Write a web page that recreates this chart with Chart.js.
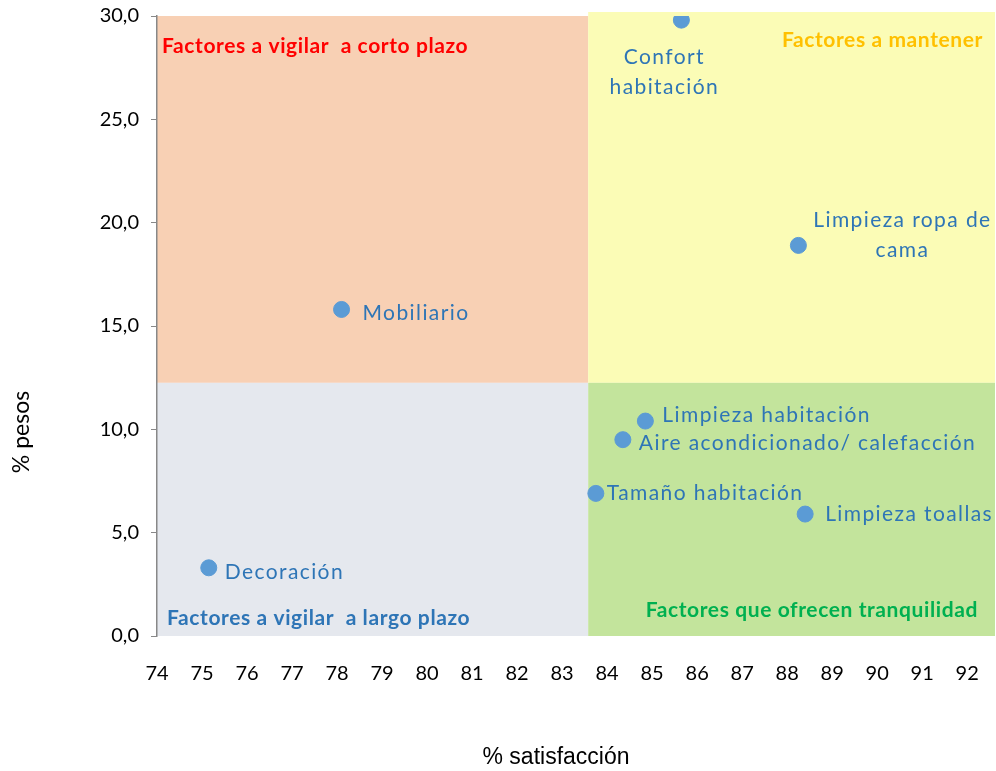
<!DOCTYPE html>
<html>
<head>
<meta charset="utf-8">
<script src="https://cdn.jsdelivr.net/npm/chart.js@4.4.0/dist/chart.umd.min.js"></script>
<style>
    html, body { margin: 0; padding: 0; background: #fff; }
    #wrap { width: 996px; height: 771px; }
</style>
</head>
<body>
<div id="wrap"><canvas id="myChart" width="996" height="771"></canvas></div>
<script>
// datos
var factores = ['Confort\nhabitación', 'Limpieza ropa de\ncama', 'Mobiliario', 'Limpieza habitación',
    'Aire acondicionado/ calefacción', 'Tamaño habitación', 'Limpieza toallas', 'Decoración'];
var satisfaccion = [85.65, 88.25, 78.1, 84.85, 84.35, 83.75, 88.4, 75.15];
var pesos = [29.8, 18.9, 15.8, 10.4, 9.5, 6.9, 5.9, 3.3];
var xTicks = [74, 75, 76, 77, 78, 79, 80, 81, 82, 83, 84, 85, 86, 87, 88, 89, 90, 91, 92];
var yTicks = [0, 5, 10, 15, 20, 25, 30];
var corteX = 83.58;
var corteY = 12.25;
var cuadrantes = ['Factores a vigilar  a corto plazo', 'Factores a mantener',
    'Factores a vigilar  a largo plazo', 'Factores que ofrecen tranquilidad'];
var tituloX = '% satisfacción';
var tituloY = '% pesos';

// posicion de etiquetas respecto al punto
var labelPos = [
    { dx: -17, dy: 37, align: 'center' },
    { dx: 104, dy: -25, align: 'center' },
    { dx: 21, dy: 4, align: 'left' },
    { dx: 17, dy: -6, align: 'left' },
    { dx: 16, dy: 4, align: 'left' },
    { dx: 11, dy: 0, align: 'left' },
    { dx: 20, dy: 0, align: 'left' },
    { dx: 16, dy: 4, align: 'left' }
];

var FONT = 'Lato, "Open Sans", sans-serif';

var quadPlugin = {
    id: 'quad',
    beforeDraw: function (chart) {
        var ctx = chart.ctx;
        var xs = chart.scales.x, ys = chart.scales.y;
        var a = chart.chartArea;
        var right = chart.width - 1;
        var cx = xs.getPixelForValue(corteX);
        var cy = ys.getPixelForValue(corteY);
        ctx.save();
        ctx.fillStyle = '#F8D0B4';
        ctx.fillRect(a.left, a.top, cx - a.left, cy - a.top);
        ctx.fillStyle = '#FBFCB6';
        ctx.fillRect(cx, a.top - 4, right - cx, cy - a.top + 4);
        ctx.fillStyle = '#E5E8EE';
        ctx.fillRect(a.left, cy, cx - a.left, a.bottom - cy);
        ctx.fillStyle = '#C3E49C';
        ctx.fillRect(cx, cy, right - cx, a.bottom - cy);

        ctx.font = 'bold 21px ' + FONT;
        ctx.letterSpacing = '0.6px';
        ctx.textBaseline = 'middle';
        ctx.textAlign = 'left';
        ctx.fillStyle = '#FF0000';
        ctx.fillText(cuadrantes[0], a.left + 5, a.top + 30);
        ctx.fillStyle = '#FFC000';
        ctx.textAlign = 'right';
        ctx.fillText(cuadrantes[1], right - 12, a.top + 24);
        ctx.fillStyle = '#2E75B6';
        ctx.textAlign = 'left';
        ctx.fillText(cuadrantes[2], a.left + 10, a.bottom - 18);
        ctx.fillStyle = '#00B050';
        ctx.textAlign = 'right';
        ctx.fillText(cuadrantes[3], right - 17, a.bottom - 26);

        // titulos de ejes
        ctx.letterSpacing = '0px';
        ctx.fillStyle = '#000';
        ctx.textAlign = 'center';
        ctx.font = '23px "Liberation Sans Narrow", "Liberation Sans", sans-serif';
        ctx.fillText(tituloX, 556, 758);
        ctx.translate(22, 432);
        ctx.rotate(-Math.PI / 2);
        ctx.font = '23px ' + FONT;
        ctx.fillText(tituloY, 0, 0);
        ctx.restore();
    },
    afterDatasetsDraw: function (chart) {
        var ctx = chart.ctx;
        var meta = chart.getDatasetMeta(0);
        ctx.save();
        ctx.font = '21px ' + FONT;
        ctx.letterSpacing = '1.4px';
        ctx.fillStyle = '#2E75B6';
        ctx.textBaseline = 'middle';
        for (var i = 0; i < meta.data.length; i++) {
            var p = meta.data[i];
            var pos = labelPos[i];
            var lines = factores[i].split('\n');
            ctx.textAlign = pos.align;
            for (var j = 0; j < lines.length; j++) {
                ctx.fillText(lines[j], p.x + pos.dx, p.y + pos.dy + j * 30);
            }
        }
        ctx.restore();
    }
};

function renderChart() {
    var ctx = document.getElementById('myChart');
    var puntos = [];
    for (var i = 0; i < satisfaccion.length; i++) {
        puntos.push({ x: satisfaccion[i], y: pesos[i] });
    }
    new Chart(ctx, {
        type: 'scatter',
        plugins: [quadPlugin],
        data: {
            datasets: [{
                data: puntos,
                backgroundColor: '#5B9BD5',
                borderColor: '#5B9BD5',
                pointRadius: 8,
                pointHoverRadius: 8
            }]
        },
        options: {
            responsive: false,
            animation: false,
            layout: { padding: { left: 0, right: 0, top: 16, bottom: 0 } },
            plugins: {
                legend: { display: false },
                tooltip: { enabled: false }
            },
            scales: {
                x: {
                    type: 'linear',
                    min: 74,
                    max: 92.44,
                    afterBuildTicks: function (scale) {
                        scale.ticks = xTicks.map(function (v) { return { value: v }; });
                    },
                    afterFit: function (scale) {
                        scale.height = 771 - 636;
                        scale.paddingLeft = 0;
                        scale.paddingRight = 0;
                    },
                    grid: { display: false },
                    border: { display: false },
                    ticks: {
                        color: '#000',
                        font: { size: 20, family: FONT },
                        padding: 18,
                        maxRotation: 0,
                        autoSkip: false
                    }
                },
                y: {
                    min: 0,
                    max: 30,
                    afterBuildTicks: function (scale) {
                        scale.ticks = yTicks.map(function (v) { return { value: v }; });
                    },
                    afterFit: function (scale) {
                        scale.width = 157;
                        scale.paddingTop = 0;
                        scale.paddingBottom = 0;
                    },
                    grid: {
                        display: true,
                        drawOnChartArea: false,
                        drawTicks: true,
                        tickLength: 6,
                        color: '#888'
                    },
                    border: { display: true, color: '#888', width: 1.5 },
                    ticks: {
                        color: '#000',
                        font: { size: 20, family: FONT },
                        padding: 12,
                        callback: function (v) { return v.toFixed(1).replace('.', ','); }
                    }
                }
            }
        }
    });
}

renderChart();
</script>
</body>
</html>
